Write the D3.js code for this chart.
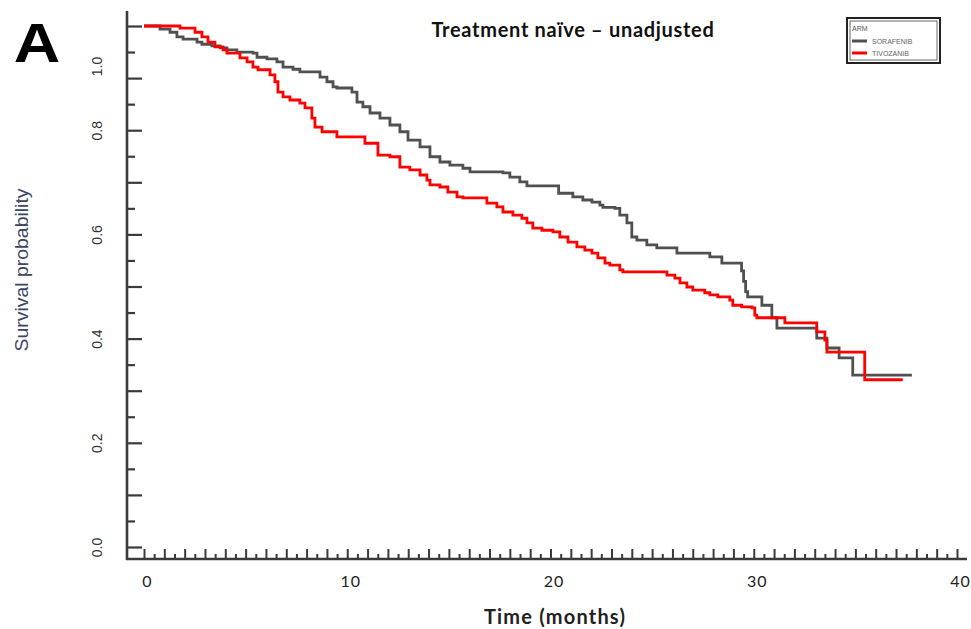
<!DOCTYPE html>
<html>
<head>
<meta charset="utf-8">
<script src="https://cdn.jsdelivr.net/npm/d3@7/dist/d3.min.js"></script>
<style>
  html, body { margin: 0; padding: 0; background: #fff; }
  svg { display: block; }
</style>
</head>
<body>
<svg id="chart" width="971" height="629"></svg>
<script>
// ---- data ----
const sorafenibTimes = [0, 0.79, 1.28, 1.62, 1.92, 2.61, 2.85, 3.34, 3.74, 4.08, 4.57, 5.36, 5.56, 6.05, 6.54, 6.84, 7.33, 7.67, 8.66, 9.00, 9.30, 9.49, 10.23, 10.48, 10.77, 11.12, 11.61, 12.10, 12.59, 12.99, 13.58, 14.07, 14.56, 15.05, 15.69, 16.04, 17.66, 18.00, 18.49, 18.84, 20.40, 21.10, 21.59, 22.04, 22.43, 22.58, 23.17, 23.41, 23.76, 24.00, 24.25, 24.74, 25.23, 26.22, 27.84, 28.43, 29.40, 29.50, 29.60, 29.70, 30.40, 30.89, 31.14, 33.10, 33.60, 34.20, 34.87, 37.78];
const sorafenibSurv = [1.0, 0.994, 0.988, 0.979, 0.975, 0.969, 0.965, 0.962, 0.958, 0.954, 0.950, 0.948, 0.940, 0.937, 0.931, 0.921, 0.917, 0.912, 0.902, 0.893, 0.883, 0.881, 0.873, 0.854, 0.845, 0.833, 0.823, 0.810, 0.797, 0.781, 0.768, 0.749, 0.739, 0.733, 0.727, 0.720, 0.718, 0.710, 0.701, 0.693, 0.679, 0.672, 0.666, 0.662, 0.656, 0.652, 0.650, 0.637, 0.622, 0.595, 0.589, 0.580, 0.574, 0.564, 0.557, 0.545, 0.530, 0.510, 0.490, 0.480, 0.464, 0.440, 0.420, 0.401, 0.382, 0.363, 0.330, 0.330];

const tivozanibTimes = [0, 1.77, 2.51, 2.85, 3.15, 3.49, 3.89, 4.08, 4.72, 5.07, 5.36, 5.61, 6.20, 6.44, 6.59, 6.84, 7.18, 7.67, 7.92, 8.26, 8.41, 8.76, 9.49, 10.87, 11.51, 12.10, 12.59, 13.08, 13.58, 13.92, 14.07, 14.56, 14.95, 15.40, 15.69, 16.87, 17.36, 17.66, 18.15, 18.59, 18.84, 19.13, 19.58, 20.12, 20.46, 20.86, 21.30, 21.69, 22.04, 22.33, 22.68, 22.92, 23.41, 23.56, 25.73, 26.12, 26.37, 26.71, 27.00, 27.59, 27.84, 28.23, 28.82, 28.97, 29.41, 29.91, 30.05, 30.15, 31.53, 33.10, 33.50, 33.60, 35.46, 37.33];
const tivozanibSurv = [1.0, 0.996, 0.988, 0.979, 0.969, 0.960, 0.954, 0.948, 0.939, 0.931, 0.921, 0.916, 0.906, 0.893, 0.873, 0.864, 0.858, 0.852, 0.843, 0.823, 0.806, 0.797, 0.787, 0.775, 0.752, 0.749, 0.729, 0.724, 0.714, 0.704, 0.695, 0.691, 0.681, 0.672, 0.670, 0.660, 0.653, 0.643, 0.637, 0.631, 0.622, 0.612, 0.608, 0.605, 0.595, 0.585, 0.576, 0.570, 0.564, 0.555, 0.545, 0.541, 0.532, 0.528, 0.522, 0.516, 0.507, 0.499, 0.493, 0.488, 0.484, 0.480, 0.474, 0.464, 0.461, 0.459, 0.445, 0.440, 0.430, 0.413, 0.397, 0.374, 0.321, 0.321];

const seriesNames = ["SORAFENIB", "TIVOZANIB"];
const seriesColors = ["#505050", "#ff0000"];
const xTickLabels = [0, 10, 20, 30, 40];
const yTickLabels = [0.0, 0.2, 0.4, 0.6, 0.8, 1.0];
const chartTitle = "Treatment naïve – unadjusted";
const xTitle = "Time (months)";
const yTitle = "Survival probability";
const panelLabel = "A";
const legendTitle = "ARM";

// ---- layout ----
const svg = d3.select("#chart");
svg.append("rect").attr("width", 971).attr("height", 629).attr("fill", "#fff");

const x = d3.scaleLinear().domain([0, 40]).range([144, 957]);
const y = d3.scaleLinear().domain([0, 1]).range([547, 26]);
const axisColor = "#3a3a3a";
const axisLeftX = 127, axisBottomY = 559;

// axis lines
svg.append("line").attr("x1", axisLeftX).attr("x2", axisLeftX)
  .attr("y1", 11).attr("y2", axisBottomY + 1)
  .attr("stroke", axisColor).attr("stroke-width", 2.6);
svg.append("line").attr("x1", axisLeftX - 1).attr("x2", 967)
  .attr("y1", axisBottomY).attr("y2", axisBottomY)
  .attr("stroke", axisColor).attr("stroke-width", 2.6);

// y ticks (inward, to the right)
const yMajor = d3.range(0, 11).map(i => i / 10);
const yMinor = d3.range(0, 10).map(i => i / 10 + 0.05);
const yTickG = svg.append("g").attr("transform", `translate(${axisLeftX},0)`);
yTickG.call(d3.axisRight(y).tickValues(yMajor).tickSize(15).tickFormat(""));
yTickG.append("g").call(d3.axisRight(y).tickValues(yMinor).tickSize(8).tickFormat(""));
yTickG.selectAll(".domain").remove();
yTickG.selectAll("line").attr("stroke", axisColor).attr("stroke-width", 2.2);

// y tick labels (rotated)
const yLabG = svg.append("g").attr("transform", "translate(97,0)");
yLabG.call(d3.axisLeft(y).tickValues(yTickLabels).tickSize(0).tickFormat(d3.format(".1f")));
yLabG.selectAll(".domain").remove();
yLabG.selectAll("text")
  .attr("x", 0).attr("y", 0).attr("dy", "0.36em")
  .attr("transform", d => `translate(0,${d === 1 ? 40 : 0}) rotate(-90)`)
  .attr("text-anchor", "middle")
  .attr("font-family", "'Liberation Sans', Arial, sans-serif")
  .attr("font-size", 14)
  .attr("fill", "#333");

// x ticks (inward, upward)
const xMajor = d3.range(0, 41);
const xMinor = d3.range(0, 40).map(i => i + 0.5);
const xTickG = svg.append("g").attr("transform", `translate(0,${axisBottomY})`);
xTickG.call(d3.axisTop(x).tickValues(xMajor).tickSize(10).tickFormat(""));
xTickG.append("g").call(d3.axisTop(x).tickValues(xMinor).tickSize(5).tickFormat(""));
xTickG.selectAll(".domain").remove();
xTickG.selectAll("line").attr("stroke", axisColor).attr("stroke-width", 2);

// x tick labels
const xLabG = svg.append("g").attr("transform", `translate(3,${axisBottomY + 14})`);
xLabG.call(d3.axisBottom(x).tickValues(xTickLabels).tickSize(0).tickFormat(d3.format("d")));
xLabG.selectAll(".domain").remove();
xLabG.selectAll("text")
  .attr("font-family", "Lato, 'Open Sans', sans-serif")
  .attr("font-size", 16)
  .attr("letter-spacing", 1)
  .attr("fill", "#222");

// curves
const line = d3.line().x(d => x(d[0])).y(d => y(d[1])).curve(d3.curveStepAfter);
const series = [
  d3.zip(sorafenibTimes, sorafenibSurv),
  d3.zip(tivozanibTimes, tivozanibSurv)
];
series.forEach((pts, i) => {
  svg.append("path").datum(pts)
    .attr("d", line)
    .attr("fill", "none")
    .attr("stroke", seriesColors[i])
    .attr("stroke-width", 2.8)
    .attr("stroke-linejoin", "miter");
});

// titles
svg.append("text").attr("x", 573).attr("y", 37)
  .attr("text-anchor", "middle")
  .attr("font-family", "Lato, 'Open Sans', sans-serif")
  .attr("font-weight", "bold").attr("font-size", 20)
  .attr("letter-spacing", 0.7)
  .attr("fill", "#111").text(chartTitle);

svg.append("text").attr("x", 555).attr("y", 624)
  .attr("text-anchor", "middle")
  .attr("font-family", "Lato, 'Open Sans', sans-serif")
  .attr("font-weight", "bold").attr("font-size", 20)
  .attr("letter-spacing", 1.2)
  .attr("fill", "#222").text(xTitle);

svg.append("text")
  .attr("transform", "translate(28,270) rotate(-90)")
  .attr("text-anchor", "middle")
  .attr("font-family", "'Liberation Sans', Arial, sans-serif")
  .attr("font-size", 19)
  .attr("textLength", 163).attr("lengthAdjust", "spacingAndGlyphs")
  .attr("fill", "#3b4566").text(yTitle);

svg.append("text")
  .attr("transform", "translate(37,62) scale(1.15,1)")
  .attr("text-anchor", "middle")
  .attr("font-family", "'Liberation Sans', Arial, sans-serif")
  .attr("font-weight", "bold").attr("font-size", 56)
  .attr("fill", "#000").text(panelLabel);

// legend
const lg = svg.append("g").attr("transform", "translate(847,18)");
lg.append("rect").attr("x", 0).attr("y", 0).attr("width", 93).attr("height", 45)
  .attr("fill", "#fff").attr("stroke", "#222").attr("stroke-width", 2);
lg.append("rect").attr("x", 3).attr("y", 3).attr("width", 87).attr("height", 39)
  .attr("fill", "none").attr("stroke", "#444").attr("stroke-width", 0.8);
lg.append("text").attr("x", 5).attr("y", 13)
  .attr("font-family", "'Liberation Sans', Arial, sans-serif")
  .attr("font-size", 7).attr("fill", "#555").text(legendTitle);
seriesNames.forEach((name, i) => {
  const yy = 23 + i * 12;
  lg.append("line").attr("x1", 5).attr("x2", 20).attr("y1", yy).attr("y2", yy)
    .attr("stroke", seriesColors[i]).attr("stroke-width", 3);
  lg.append("text").attr("x", 25).attr("y", yy + 2.5)
    .attr("font-family", "'Liberation Sans', Arial, sans-serif")
    .attr("font-size", 7).attr("fill", "#666").text(name);
});
</script>
</body>
</html>
